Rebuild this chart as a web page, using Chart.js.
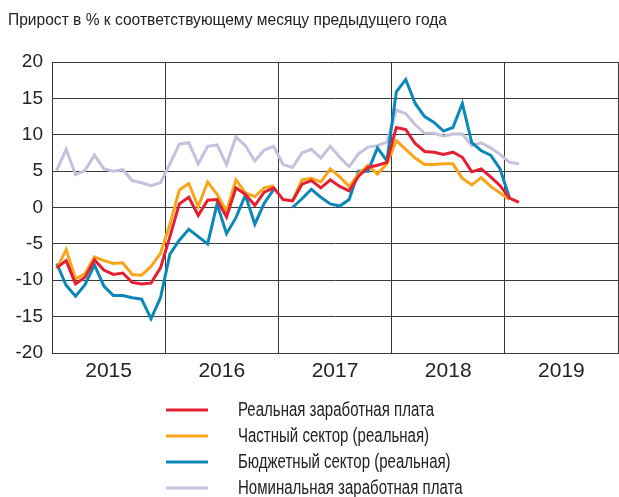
<!DOCTYPE html>
<html><head><meta charset="utf-8">
<script src="https://cdn.jsdelivr.net/npm/chart.js@4.4.1/dist/chart.umd.min.js"></script>
<style>html,body{margin:0;padding:0;background:#fff;overflow:hidden}#wrap{position:relative;width:619px;height:497px}</style>
</head><body><div id="wrap"><canvas id="c" width="619" height="497"></canvas></div>
<script>
const titleText = "Прирост в % к соответствующему месяцу предыдущего года";
const years = ["2015", "2016", "2017", "2018", "2019"];
const yTicks = [-20, -15, -10, -5, 0, 5, 10, 15, 20];
const seriesNames = ["Реальная заработная плата", "Частный сектор (реальная)", "Бюджетный сектор (реальная)", "Номинальная заработная плата"];
const seriesColors = ["#e61e32", "#f9a51a", "#0b87b8", "#c5c1dc"];
// monthly values starting January 2015
const realWage = [-8.3, -7.3, -10.5, -9.6, -7.2, -8.6, -9.2, -9.0, -10.3, -10.5, -10.4, -8.3,
  -4.0, 0.5, 1.4, -1.1, 1.0, 1.1, -1.3, 2.7, 1.8, 0.3, 2.1, 2.7,
  1.1, 0.9, 3.2, 3.7, 2.7, 3.8, 2.9, 2.3, 4.3, 5.5, 5.8, 6.2,
  11.0, 10.7, 8.8, 7.7, 7.6, 7.3, 7.6, 6.9, 4.9, 5.3, 4.2, 3.0,
  1.3, 0.7];
const privateSector = [-8.4, -5.8, -9.8, -9.1, -6.8, -7.3, -7.7, -7.6, -9.2, -9.3, -8.1, -6.3,
  -2.3, 2.4, 3.3, 0.1, 3.5, 1.8, -0.5, 3.8, 2.0, 1.5, 2.7, 3.0,
  null, 0.9, 3.8, 4.0, 3.5, 5.3, 4.2, 2.9, 4.6, 5.8, 4.6, 6.0,
  9.2, 8.0, 6.8, 5.9, 5.9, 6.0, 6.0, 4.0, 3.1, 4.1, 2.9, 2.0,
  1.1];
const publicSector = [-7.7, -10.7, -12.2, -10.6, -7.9, -10.8, -12.1, -12.1, -12.4, -12.6, -15.3, -12.4,
  -6.4, -4.5, -3.0, -4.0, -5.0, 0.5, -3.6, -1.4, 1.7, -2.3, 0.6, 2.5,
  null, 0.0, 1.2, 2.5, 1.4, 0.5, 0.2, 1.1, 5.0, 5.0, 8.2, 6.4,
  15.9, 17.6, 14.3, 12.5, 11.7, 10.5, 11.0, 14.3, 8.9, 7.8, 7.2, 5.3,
  1.3];
const nominalWage = [5.1, 8.0, 4.5, 5.1, 7.2, 5.3, 5.0, 5.2, 3.7, 3.4, 3.0, 3.4,
  6.0, 8.7, 8.9, 6.0, 8.4, 8.6, 5.9, 9.7, 8.5, 6.4, 7.9, 8.4,
  5.9, 5.5, 7.5, 8.0, 6.8, 8.4, 6.9, 5.6, 7.4, 8.3, 8.5, 9.0,
  13.4, 12.9, 11.4, 10.2, 10.2, 9.8, 10.1, 10.1, 8.5, 8.9, 8.2, 7.3,
  6.2, 6.0];

const FONT = '"Liberation Sans", Arial, sans-serif';
const allSeries = [realWage, privateSector, publicSector, nominalWage];

const datasets = allSeries.map((arr, k) => ({
  label: seriesNames[k],
  data: arr.map((v, i) => ({ x: i + 0.5, y: v })),
  borderColor: seriesColors[k],
  backgroundColor: seriesColors[k],
  borderWidth: 3,
  pointRadius: 0,
  tension: 0,
  spanGaps: false,
  fill: false
}));

const decor = {
  id: 'decor',
  afterDraw(chart) {
    const ctx = chart.ctx;
    ctx.save();
    ctx.fillStyle = '#222';
    ctx.textBaseline = 'middle';
    ctx.textAlign = 'left';
    ctx.font = '17px ' + FONT;
    const tsx = 439 / ctx.measureText(titleText).width;
    ctx.save();
    ctx.translate(8, 20);
    ctx.scale(tsx, 1);
    ctx.fillText(titleText, 0, 0);
    ctx.restore();
    const rowY = [410, 436, 462, 488];
    ctx.font = '20px ' + FONT;
    const sx = 196 / ctx.measureText(seriesNames[0]).width;
    chart.data.datasets.forEach((ds, k) => {
      ctx.strokeStyle = ds.borderColor;
      ctx.lineWidth = 3;
      ctx.beginPath();
      ctx.moveTo(166, rowY[k]);
      ctx.lineTo(208, rowY[k]);
      ctx.stroke();
      ctx.fillStyle = '#222';
      ctx.save();
      ctx.translate(238, rowY[k]);
      ctx.scale(sx, 1);
      ctx.fillText(ds.label, 0, 0);
      ctx.restore();
    });
    ctx.restore();
  }
};

new Chart(document.getElementById('c'), {
  type: 'line',
  data: { datasets },
  options: {
    responsive: false,
    animation: false,
    devicePixelRatio: 1,
    layout: { padding: { left: 0, right: 1, top: 62, bottom: 104 } },
    plugins: { legend: { display: false }, title: { display: false }, tooltip: { enabled: false } },
    scales: {
      x: {
        type: 'linear', min: 0, max: 60,
        afterBuildTicks: s => { s.ticks = []; for (let v = 0; v <= 60; v += 6) s.ticks.push({ value: v }); },
        afterFit: s => { s.height = 40; },
        ticks: {
          autoSkip: false, maxRotation: 0, padding: 0, color: '#222',
          font: { family: FONT, size: 21, lineHeight: '37px' },
          callback: v => (v % 12 === 6 ? years[(v - 6) / 12] : '')
        },
        grid: {
          drawTicks: false, lineWidth: 1,
          color: c => (c.tick && c.tick.value % 12 === 0 ? '#3a3a3a' : 'rgba(0,0,0,0)')
        },
        border: { display: true, color: '#3a3a3a', width: 1 }
      },
      y: {
        min: -20, max: 20,
        afterBuildTicks: s => { s.ticks = yTicks.map(v => ({ value: v })); },
        afterFit: s => { s.width = 52; },
        ticks: { padding: 9, color: '#222', font: { family: FONT, size: 19 } },
        grid: { drawTicks: false, lineWidth: 1, color: '#3a3a3a' },
        border: { display: true, color: '#3a3a3a', width: 1 }
      }
    }
  },
  plugins: [decor]
});
</script>
</body></html>
